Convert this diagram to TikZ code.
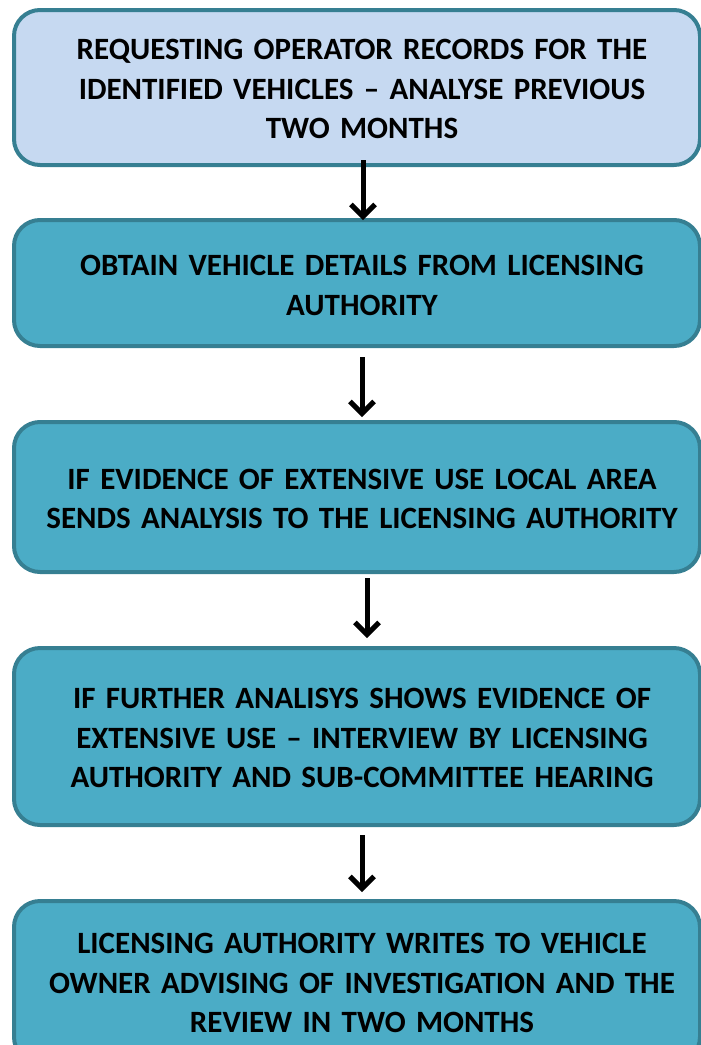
\documentclass[tikz,border=0pt]{standalone}
\usepackage{fontspec}
\setmainfont{Carlito}
\usetikzlibrary{arrows.meta}
\definecolor{boxborder}{HTML}{367F92}
\definecolor{lightfill}{HTML}{C6D9F1}
\definecolor{tealfill}{HTML}{4BACC6}
\tikzset{
  stepbox/.style={draw=boxborder, line width=4pt, rounded corners=26pt, outer sep=0pt, inner sep=0pt, minimum width=686pt},
  firstbox/.style={stepbox, fill=lightfill},
  tealbox/.style={stepbox, fill=tealfill},
  boxtext/.style={text width=690pt, align=center, inner sep=0pt, font=\bfseries\fontsize{31pt}{39.5pt}\selectfont},
  arr/.style={line width=5pt, -{Straight Barb[length=12pt,width=24pt]}, line join=miter}
}
\begin{document}
\begin{tikzpicture}[x=1pt,y=-1pt]
\useasboundingbox (0,0) rectangle (701,1045);
\clip (0,0) rectangle (701,1045);
\node[firstbox, minimum height=155pt] (b1) at (357,87.5) {};
\node[tealbox, minimum height=126pt] (b2) at (357,283) {};
\node[tealbox, minimum height=150pt] (b3) at (357,497) {};
\node[tealbox, minimum height=177pt] (b4) at (357,736.5) {};
\node[tealbox, minimum height=162pt] (b5) at (357,982) {};
\node[boxtext] (t1) at (362,89) {REQUESTING OPERATOR RECORDS FOR THE\\IDENTIFIED VEHICLES – ANALYSE PREVIOUS\\TWO MONTHS};
\node[boxtext] (t2) at (362,285.5) {OBTAIN VEHICLE DETAILS FROM LICENSING\\AUTHORITY};
\node[boxtext] (t3) at (362,499) {IF EVIDENCE OF EXTENSIVE USE LOCAL AREA\\SENDS ANALYSIS TO THE LICENSING AUTHORITY};
\node[boxtext] (t4) at (362,738) {IF FURTHER ANALISYS SHOWS EVIDENCE OF\\EXTENSIVE USE – INTERVIEW BY LICENSING\\AUTHORITY AND SUB-COMMITTEE HEARING};
\node[boxtext] (t5) at (362,983) {LICENSING AUTHORITY WRITES TO VEHICLE\\OWNER ADVISING OF INVESTIGATION AND THE\\REVIEW IN TWO MONTHS};
\draw[arr] ([xshift=6pt,yshift=5pt]b1.south) -- ([xshift=6pt]b2.north);
\draw[arr] ([xshift=5pt,yshift=-11pt]b2.south) -- ([xshift=5pt,yshift=5pt]b3.north);
\draw[arr] ([xshift=10pt,yshift=-6pt]b3.south) -- ([xshift=10pt,yshift=10pt]b4.north);
\draw[arr] ([xshift=5pt,yshift=-10pt]b4.south) -- ([xshift=5pt,yshift=9pt]b5.north);
\end{tikzpicture}
\end{document}
